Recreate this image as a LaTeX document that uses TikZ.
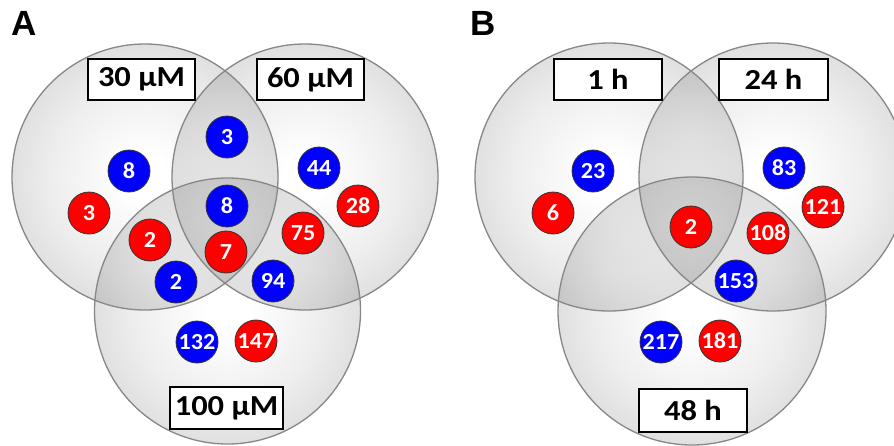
\documentclass[tikz,border=0pt]{standalone}
\usepackage{fontspec}
\setmainfont{Carlito}
\newfontfamily\lblfont[FakeStretch=1.12]{Carlito}
\newfontfamily\bubfont[FakeStretch=1.05]{Carlito}
\newfontfamily\panelfont{Liberation Sans}
\pgfdeclareradialshading{vennshade}{\pgfpoint{0bp}{0bp}}{%
  color(0bp)=(white); color(4bp)=(white); color(18bp)=(black!7);
  color(25bp)=(black!12); color(50bp)=(black!12)}
\tikzset{
  venn/.style={shading=vennshade, blend mode=multiply},
  vennline/.style={draw=black!47, line width=1.3pt},
  lbox/.style={draw=black, line width=2pt, fill=white, minimum width=107pt, minimum height=41pt, inner sep=0pt, font=\lblfont\bfseries\fontsize{29}{29}\selectfont},
  bub/.style={circle, draw=black!80, line width=0.8pt, minimum size=42pt, inner sep=0pt, text=white, font=\bubfont\bfseries\fontsize{23}{23}\selectfont},
  up/.style={bub, fill=blue},
  down/.style={bub, fill=red},
  panel/.style={font=\panelfont\bfseries\fontsize{35}{35}\selectfont, inner sep=0pt}
}
\begin{document}
\begin{tikzpicture}[x=1pt, y=-1pt]
\useasboundingbox (0,0) rectangle (894,445);
% panel letters
\node[panel] (pa) at (24.5,23.5) {A};
\node[panel] (pb) at (483.5,23.5) {B};
% ---------- Panel A circles ----------
\coordinate (a1) at (145,177);
\coordinate (a2) at (305,177);
\coordinate (a3) at (227.5,311);
\shade[venn] (a1) circle (133);
\shade[venn] (a2) circle (133);
\shade[venn] (a3) circle (133);
\draw[vennline] (a1) circle (133);
\draw[vennline] (a2) circle (133);
\draw[vennline] (a3) circle (133);
% ---------- Panel B circles ----------
\coordinate (b1) at (609,177);
\coordinate (b2) at (773,177);
\coordinate (b3) at (692,311);
\shade[venn] (b1) circle (134);
\shade[venn] (b2) circle (134);
\shade[venn] (b3) circle (134);
\draw[vennline] (b1) circle (134);
\draw[vennline] (b2) circle (134);
\draw[vennline] (b3) circle (134);
% ---------- labels ----------
\node[lbox] (la1) at (141.5,79.5) {30 µM};
\node[lbox] (la2) at (310.5,79.5) {60 µM};
\node[lbox, minimum width=113pt, minimum height=42pt] (la3) at (226.5,408) {100 µM};
\node[lbox, minimum width=108pt] (lb1) at (608,79.5) {1 h};
\node[lbox, minimum width=109pt] (lb2) at (773.5,79.5) {24 h};
\node[lbox, minimum width=108pt, minimum height=43pt] (lb3) at (693,410.5) {48 h};
% ---------- Panel A bubbles ----------
\node[up]   (aA) at (227,137) {3};
\node[up]   (aB) at (129,171) {8};
\node[down] (aC) at (89,213) {3};
\node[up]   (aD) at (227,206) {8};
\node[up]   (aE) at (319,168) {44};
\node[down] (aF) at (358,206) {28};
\node[down] (aG) at (150,240) {2};
\node[down] (aH) at (226,252) {7};
\node[down] (aI) at (303,233) {75};
\node[up]   (aJ) at (176,282) {2};
\node[up]   (aK) at (273,281) {94};
\node[up]   (aL) at (197,342) {132};
\node[down] (aM) at (256,341) {147};
% ---------- Panel B bubbles ----------
\node[up]   (bA) at (593,171) {23};
\node[down] (bB) at (553,213) {6};
\node[up]   (bC) at (784,168) {83};
\node[down] (bD) at (823,207) {121};
\node[down] (bE) at (691,227) {2};
\node[down] (bF) at (768,233) {108};
\node[up]   (bG) at (736,281) {153};
\node[up]   (bH) at (661,342) {217};
\node[down] (bI) at (720,341) {181};
\end{tikzpicture}
\end{document}
